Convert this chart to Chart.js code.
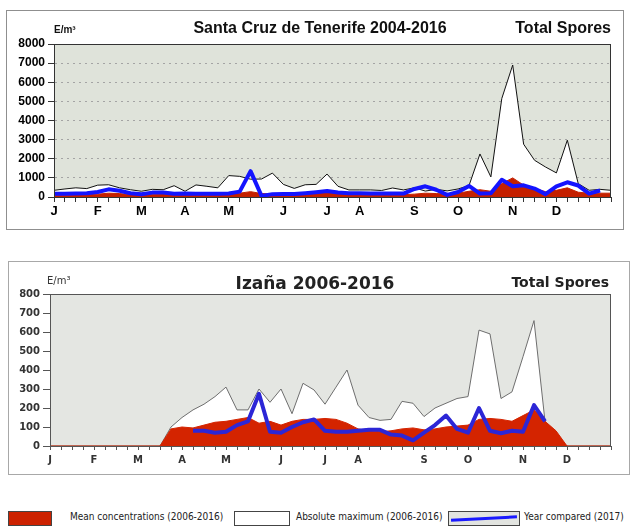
<!DOCTYPE html>
<html>
<head>
<meta charset="utf-8">
<script src="https://cdn.jsdelivr.net/npm/chart.js@4.4.1/dist/chart.umd.min.js"></script>
<style>
  body { margin: 0; width: 632px; height: 528px; background: #fff; position: relative; overflow: hidden; font-family: "Liberation Sans", Arial, sans-serif; }
  .box { position: absolute; border: 1px solid #8f8f8f; box-sizing: border-box; }
  .box canvas { position: absolute; left: 0; top: 0; }
  .txt { position: absolute; white-space: nowrap; color: #111; line-height: 18px; }
  .key { position: absolute; top: 511px; height: 15px; box-sizing: border-box; border: 1px solid #444; }
  .keytxt { position: absolute; top: 511px; line-height: 15px; font: 10px "DejaVu Sans Condensed", "DejaVu Sans", sans-serif; color: #222; white-space: nowrap; }
</style>
</head>
<body>

<div class="box" id="box1" style="left:6px; top:10px; width:618px; height:220px;">
  <canvas id="tenerife" width="616" height="218"></canvas>
</div>
<div class="txt" style="left:54px; top:21px; font-size:10px; font-weight:bold;">E/m³</div>
<div class="txt" style="left:160px; width:320px; top:19px; text-align:center; font-size:16px; font-weight:bold;">Santa Cruz de Tenerife 2004-2016</div>
<div class="txt" style="right:21px; top:19px; font-size:16px; font-weight:bold;">Total Spores</div>

<div class="box" id="box2" style="left:8px; top:261px; width:622px; height:214px; border-color:#a8a8a8;">
  <canvas id="izana" width="620" height="212" style="filter: blur(0.5px);"></canvas>
</div>
<div class="txt" style="left:47px; top:272px; font:10px 'DejaVu Sans', sans-serif; color:#333; line-height:18px;">E/m³</div>
<div class="txt" style="left:215px; width:200px; top:274px; text-align:center; font:bold 17px 'DejaVu Sans', sans-serif; color:#222; line-height:18px;">Izaña 2006-2016</div>
<div class="txt" style="right:23px; top:273px; font:bold 14px 'DejaVu Sans', sans-serif; color:#222; line-height:18px;">Total Spores</div>

<!-- legend row -->
<div class="key" style="left:8px; width:44px; background:#cc2200;"></div>
<div class="keytxt" style="left:70px;">Mean concentrations (2006-2016)</div>
<div class="key" style="left:234px; width:56px; background:#fff;"></div>
<div class="keytxt" style="left:296px;">Absolute maximum (2006-2016)</div>
<div class="key" style="left:448px; width:72px; background:#e2e4e0; overflow:hidden;">
  <div style="position:absolute; left:2px; top:5px; width:66px; height:3px; background:#1a1aff; transform:rotate(-3deg);"></div>
</div>
<div class="keytxt" style="left:524px;">Year compared (2017)</div>

<script>
const weeks = Array.from({ length: 52 }, (_, i) => String(i + 1));
const monthLetters = ["J", "F", "M", "A", "M", "J", "J", "A", "S", "O", "N", "D"];
const tenerifeMonthWeeks = [0, 4, 8, 12, 16, 21, 25, 28, 33, 37, 42, 46];
const izanaMonthWeeks = [0, 4, 8, 12, 16, 21, 25, 28, 34, 38, 43, 47];

// Santa Cruz de Tenerife, spores per m3, weekly
const tenerifeMax = [350, 420, 480, 440, 620, 640, 480, 380, 300, 400, 380, 590, 300, 630, 560, 480,
  1120, 1080, 930, 940, 1250, 660, 450, 640, 660, 1200, 560, 370, 370, 370, 340, 470, 370, 480,
  310, 400, 320, 420, 600, 2250, 1050, 5150, 6900, 2760, 1920, 1570, 1260, 2970, 700, 350, 400, 350];
const tenerifeMean = [80, 90, 100, 110, 150, 200, 180, 120, 100, 150, 160, 130, 100, 100, 110, 120,
  150, 200, 280, 180, 160, 120, 130, 150, 200, 260, 180, 150, 140, 130, 120, 130, 120, 150,
  200, 180, 150, 200, 300, 380, 300, 700, 1000, 620, 450, 280, 350, 480, 250, 200, 200, 200];
const tenerifeYear = [170, 170, 180, 200, 260, 400, 330, 200, 140, 230, 240, 170, 180, 170, 170, 170,
  180, 280, 1350, 60, 150, 160, 160, 200, 250, 310, 230, 200, 190, 180, 180, 180, 180, 420,
  560, 380, 110, 260, 580, 180, 190, 900, 560, 610, 440, 150, 560, 770, 600, 180, 340, null];

// Izaña, spores per m3, weekly
const izanaMax = [0, 0, 0, 0, 0, 0, 0, 0, 0, 0, 0, 100, 150, 190, 220, 260, 310, 190, 190, 300,
  230, 300, 170, 330, 295, 220, 310, 400, 215, 150, 135, 140, 235, 225, 155, 200, 225, 250,
  260, 610, 590, 250, 285, 470, 660, 130, 60, 0, 0, 0, 0, 0];
const izanaMean = [0, 0, 0, 0, 0, 0, 0, 0, 0, 0, 0, 90, 100, 95, 110, 125, 130, 140, 150, 120,
  130, 110, 130, 140, 140, 145, 140, 120, 90, 80, 75, 80, 90, 95, 85, 90, 100, 105, 110, 140,
  145, 140, 130, 160, 190, 130, 80, 0, 0, 0, 0, 0];
const izanaYear = [null, null, null, null, null, null, null, null, null, null, null, null, null,
  80, 80, 70, 75, 110, 130, 275, 75, 70, 100, 125, 140, 80, 75, 75, 80, 85, 85, 60, 55, 30, 70,
  110, 160, 90, 70, 200, 80, 67, 80, 75, 215, 130, null, null, null, null, null, null];

// fills the plot area and outlines it
const plotFrame = {
  id: "plotFrame",
  beforeDraw(chart, args, opts) {
    const a = chart.chartArea, ctx = chart.ctx;
    ctx.save();
    ctx.fillStyle = opts.fill;
    ctx.fillRect(a.left, a.top, a.right - a.left, a.bottom - a.top);
    ctx.restore();
  },
  afterDraw(chart, args, opts) {
    const a = chart.chartArea, ctx = chart.ctx;
    ctx.save();
    ctx.strokeStyle = opts.stroke;
    ctx.lineWidth = opts.width;
    ctx.strokeRect(a.left + 0.5, a.top + 0.5, a.right - a.left - 1, a.bottom - a.top);
    ctx.restore();
  }
};

function makeChart(id, cfg) {
  const monthAt = {};
  cfg.monthWeeks.forEach((w, i) => { monthAt[w] = monthLetters[i]; });
  return new Chart(document.getElementById(id), {
    type: "line",
    data: {
      labels: weeks,
      datasets: [
        { data: cfg.year, borderColor: cfg.blue, borderWidth: 4, fill: false, spanGaps: false },
        { data: cfg.mean, borderColor: cfg.red, backgroundColor: cfg.red, borderWidth: 1, fill: "origin" },
        { data: cfg.max, borderColor: cfg.maxLine, backgroundColor: "#ffffff", borderWidth: 1, fill: "origin" }
      ]
    },
    options: {
      responsive: false,
      animation: false,
      devicePixelRatio: 1,
      layout: { padding: { top: cfg.top, right: cfg.right, left: 0, bottom: 0 } },
      elements: { point: { radius: 0 }, line: { tension: 0, borderJoinStyle: "round" } },
      plugins: {
        legend: { display: false },
        tooltip: { enabled: false },
        plotFrame: { fill: cfg.bg, stroke: cfg.frame, width: 1 }
      },
      scales: {
        x: {
          type: "category",
          offset: false,
          afterFit(s) { s.height = cfg.xHeight; },
          grid: { drawOnChartArea: false, drawTicks: true, tickLength: cfg.xTick, tickColor: cfg.tickColor },
          border: { color: cfg.frame, width: 1 },
          ticks: {
            autoSkip: false, maxRotation: 0, padding: cfg.xPad, color: cfg.labelColor,
            font: cfg.xFont,
            callback: (v, i) => monthAt[i] || ""
          }
        },
        y: {
          min: 0, max: cfg.yMax,
          afterFit(s) { s.width = cfg.yWidth; },
          grid: { drawOnChartArea: cfg.gridLines, color: "#a4a4a4", tickLength: cfg.yTick, tickColor: cfg.tickColor },
          border: { color: cfg.frame, width: 1, dash: [2, 4] },
          ticks: { stepSize: cfg.yStep, padding: cfg.yPad, color: cfg.labelColor, font: cfg.yFont, callback: v => String(v) }
        }
      }
    },
    plugins: [plotFrame]
  });
}

makeChart("tenerife", {
  max: tenerifeMax, mean: tenerifeMean, year: tenerifeYear, monthWeeks: tenerifeMonthWeeks,
  blue: "#1414ff", red: "#c42000", maxLine: "#111111", bg: "#dfe3da", frame: "#333333",
  tickColor: "#333333", labelColor: "#000000", gridLines: true,
  yMax: 8000, yStep: 1000, top: 33, right: 12, xHeight: 32, yWidth: 47,
  xTick: 5, yTick: 6, xPad: 2, yPad: 3,
  xFont: { family: "Liberation Sans", size: 13, weight: "bold" },
  yFont: { family: "Liberation Sans", size: 12, weight: "bold" }
});

makeChart("izana", {
  max: izanaMax, mean: izanaMean, year: izanaYear, monthWeeks: izanaMonthWeeks,
  blue: "#2c26d6", red: "#d42400", maxLine: "#6e6e6e", bg: "#e4e6e2", frame: "#555555",
  tickColor: "#555555", labelColor: "#333333", gridLines: false,
  yMax: 800, yStep: 100, top: 32, right: 18, xHeight: 28, yWidth: 41,
  xTick: 4, yTick: 7, xPad: 4, yPad: 3,
  xFont: { family: "DejaVu Sans", size: 10, weight: "bold" },
  yFont: { family: "DejaVu Sans", size: 10, weight: "bold" }
});
</script>
</body>
</html>
